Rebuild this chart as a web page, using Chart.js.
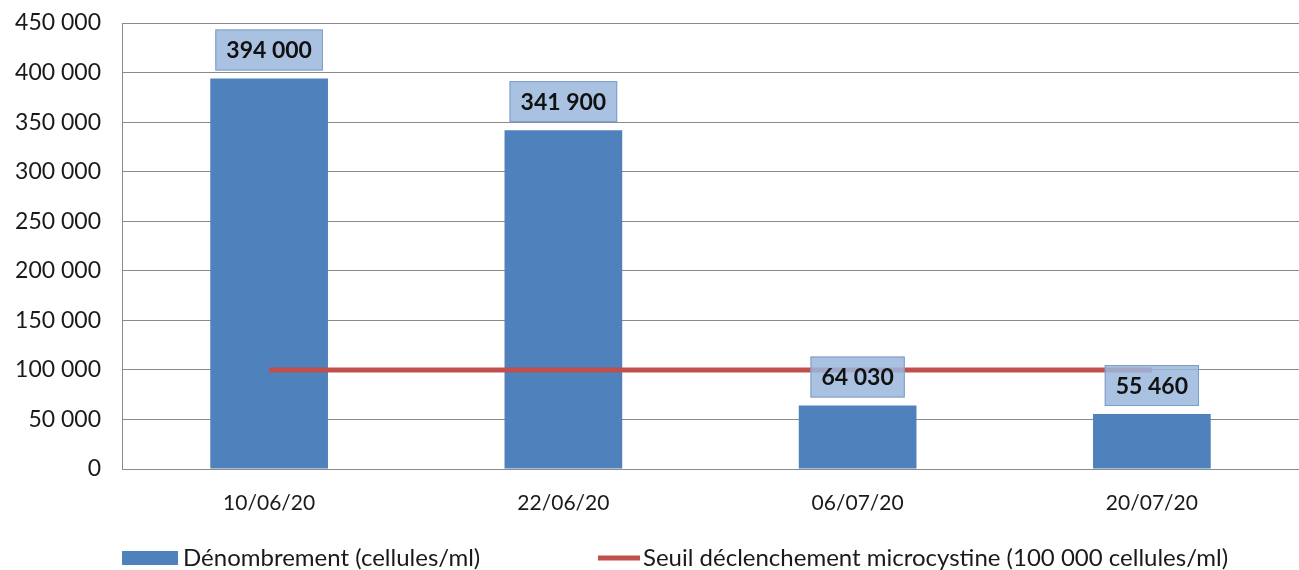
<!DOCTYPE html>
<html>
<head>
<meta charset="utf-8">
<script src="https://cdn.jsdelivr.net/npm/chart.js@4/dist/chart.umd.min.js"></script>
<style>
    html, body { margin: 0; padding: 0; background: #fff; }
    #wrap { width: 1299px; height: 570px; }
</style>
</head>
<body>
<div id="wrap"><canvas id="chart" width="1299" height="570"></canvas></div>
<script>
// ── Data ─────────────────────────────────────
const dates = ['10/06/20', '22/06/20', '06/07/20', '20/07/20'];
const counts = [394000, 341900, 64030, 55460];
const threshold = [100000, 100000, 100000, 100000];
const countLabel = 'Dénombrement (cellules/ml)';
const thresholdLabel = 'Seuil déclenchement microcystine (100 000 cellules/ml)';

const BLUE = '#4F81BD';
const RED = '#C0504D';
const FONT = 'Lato, "Open Sans", sans-serif';

function fmt(v) {
    return String(v).replace(/\B(?=(\d{3})+(?!\d))/g, ' ');
}

// ── Value boxes above bars ───────────────────
const valueBoxes = {
    id: 'valueBoxes',
    afterDatasetsDraw(chart) {
        const ctx = chart.ctx;
        const meta = chart.getDatasetMeta(0);
        ctx.save();
        ctx.font = `bold 23px ${FONT}`;
        ctx.textAlign = 'center';
        ctx.textBaseline = 'middle';
        meta.data.forEach((bar, i) => {
            const txt = fmt(counts[i]);
            const w = ctx.measureText(txt).width + 22;
            const h = 41;
            const x = bar.x - w / 2;
            const y = bar.y - 8 - h;
            ctx.fillStyle = 'rgba(155,183,221,0.85)';
            ctx.fillRect(x, y, w, h);
            ctx.strokeStyle = '#7C9CC9';
            ctx.lineWidth = 1;
            ctx.strokeRect(x + 0.5, y + 0.5, w - 1, h - 1);
            ctx.fillStyle = '#111';
            ctx.fillText(txt, bar.x, y + h / 2 + 1);
        });
        ctx.restore();
    }
};

// ── Legend at the bottom ─────────────────────
const bottomLegend = {
    id: 'bottomLegend',
    afterDraw(chart) {
        const ctx = chart.ctx;
        const y = 558;
        ctx.save();
        ctx.font = `24px ${FONT}`;
        ctx.textBaseline = 'middle';
        ctx.textAlign = 'left';
        ctx.fillStyle = BLUE;
        ctx.fillRect(122, y - 7, 56, 14);
        ctx.fillStyle = '#1a1a1a';
        ctx.fillText(countLabel, 183, y);
        ctx.strokeStyle = RED;
        ctx.lineWidth = 5;
        ctx.beginPath();
        ctx.moveTo(598, y);
        ctx.lineTo(640, y);
        ctx.stroke();
        ctx.fillText(thresholdLabel, 643, y);
        ctx.restore();
    }
};

new Chart(document.getElementById('chart'), {
    data: {
        labels: dates,
        datasets: [
            {
                type: 'bar',
                label: countLabel,
                data: counts,
                backgroundColor: BLUE,
                barPercentage: 0.4,
                categoryPercentage: 1,
                order: 1,
            },
            {
                type: 'line',
                label: thresholdLabel,
                data: threshold,
                borderColor: RED,
                borderWidth: 5,
                pointRadius: 0,
                fill: false,
                order: 0,
            },
        ],
    },
    options: {
        responsive: false,
        animation: false,
        layout: { padding: { top: 23, right: 0, bottom: 40, left: 0 } },
        plugins: {
            legend: { display: false },
            tooltip: { enabled: false },
        },
        scales: {
            x: {
                grid: { display: false, drawTicks: false },
                border: { color: '#8A8A8A', width: 1 },
                ticks: { color: '#1a1a1a', font: { family: FONT, size: 21 }, padding: 22 },
                afterFit(s) { s.height = 61; s.paddingLeft = 0; s.paddingRight = 0; },
            },
            y: {
                min: 0,
                max: 450000,
                grid: { color: '#8A8A8A', drawTicks: false },
                border: { color: '#8A8A8A', width: 1 },
                ticks: {
                    stepSize: 50000,
                    color: '#1a1a1a',
                    font: { family: FONT, size: 23 },
                    padding: 21,
                    callback: v => fmt(v),
                },
                afterFit(s) { s.width = 122; s.paddingTop = 0; s.paddingBottom = 0; },
            },
        },
    },
    plugins: [valueBoxes, bottomLegend],
});
</script>
</body>
</html>
